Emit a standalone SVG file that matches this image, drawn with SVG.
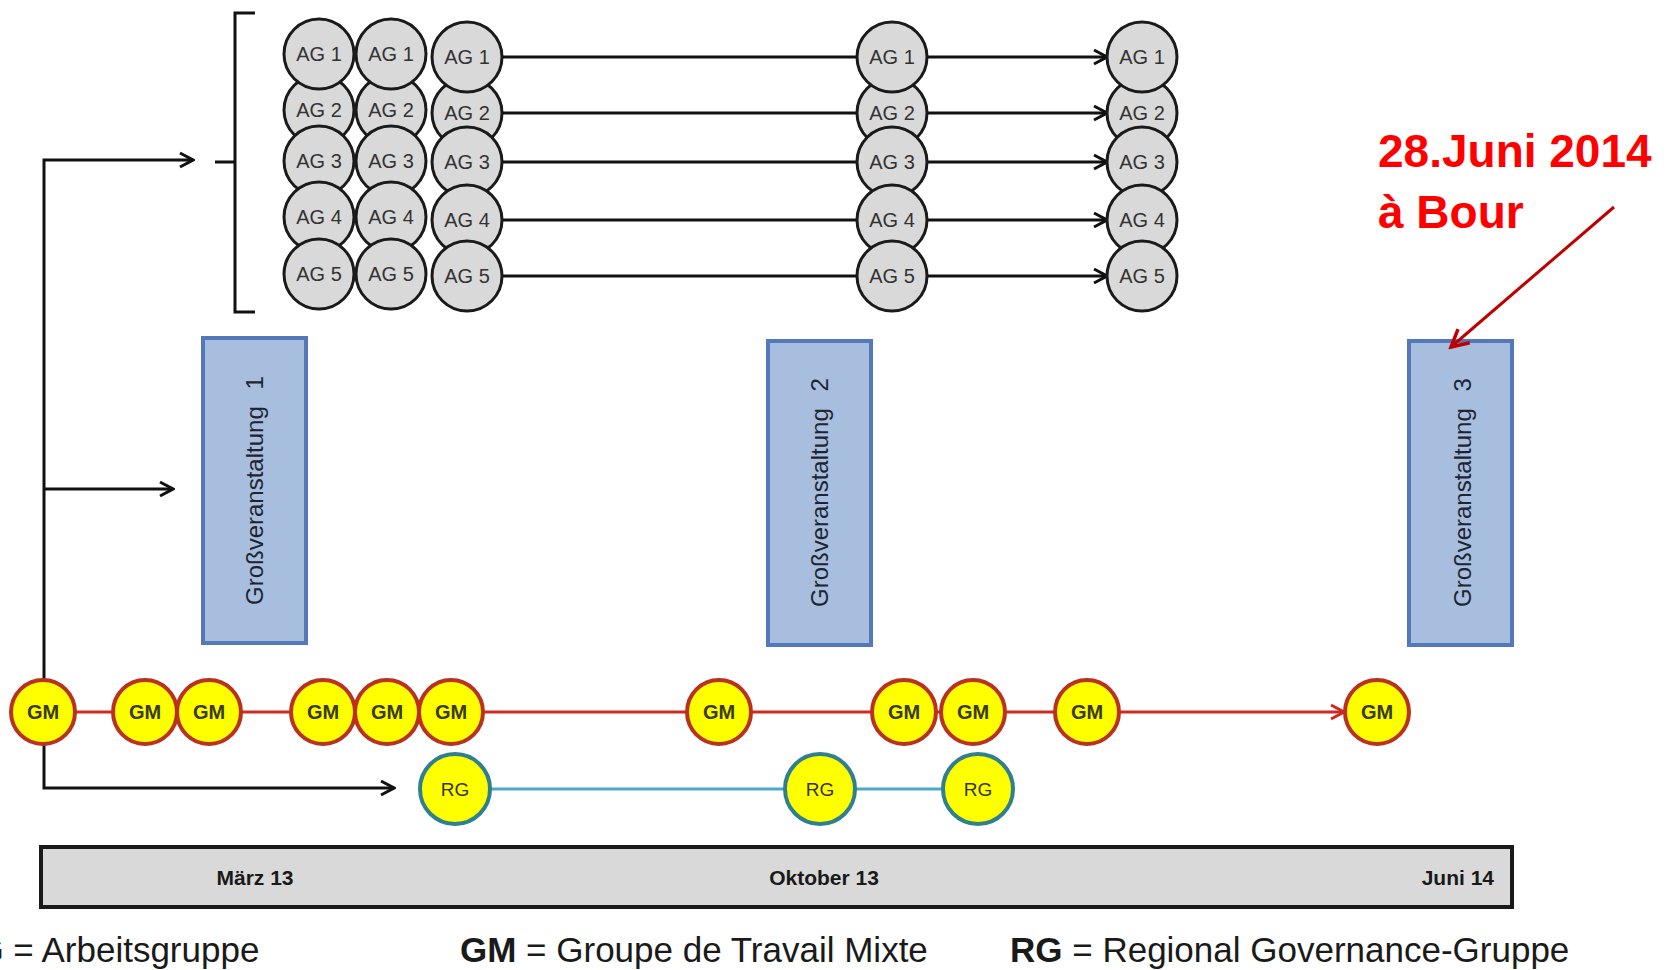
<svg xmlns="http://www.w3.org/2000/svg" width="1671" height="970" viewBox="0 0 1671 970">
<defs>
<style>
text { font-family: "Liberation Sans", Arial, sans-serif; }
.ag circle { fill:#d9d9d9; stroke:#1a1a1a; stroke-width:3; }
.ag text { font-size:20px; fill:#333; text-anchor:middle; }
.gm circle { fill:#ffff00; stroke:#b8321f; stroke-width:4; }
.gm text { font-size:20px; font-weight:bold; fill:#3a3a18; text-anchor:middle; }
.rg circle { fill:#ffff00; stroke:#2e7f90; stroke-width:4; }
.rg text { font-size:19px; fill:#333318; text-anchor:middle; }
.box rect { fill:#a7bedf; stroke:#5379bb; stroke-width:4; }
.box text { font-size:24px; fill:#1e2530; }
.blk { stroke:#111; stroke-width:3; fill:none; }
.red { stroke:#cc2a22; stroke-width:3; fill:none; }
.blue { stroke:#4aa8cc; stroke-width:3; fill:none; }
.ann { stroke:#c00000; stroke-width:3; fill:none; }
.tl rect { fill:#d9d9d9; stroke:#1a1a1a; stroke-width:4; }
.tl text { font-size:21px; font-weight:bold; fill:#1a1a1a; }
.leg { font-size:35px; fill:#1a1a1a; }
.big { font-size:46px; font-weight:bold; fill:#ff0000; }
</style>
<marker id="ah" markerUnits="userSpaceOnUse" markerWidth="20" markerHeight="20" viewBox="0 0 20 20" refX="18" refY="10" orient="auto"><path d="M5,3 L18,10 L5,17" fill="none" stroke="#111" stroke-width="3"/></marker>
<marker id="ahr" markerUnits="userSpaceOnUse" markerWidth="20" markerHeight="20" viewBox="0 0 20 20" refX="18" refY="10" orient="auto"><path d="M5,3 L18,10 L5,17" fill="none" stroke="#cc2a22" stroke-width="3"/></marker>
<marker id="ahd" markerUnits="userSpaceOnUse" markerWidth="26" markerHeight="26" viewBox="0 0 26 26" refX="23" refY="13" orient="auto"><path d="M6,4 L23,13 L6,22" fill="none" stroke="#c00000" stroke-width="3.5"/></marker>
</defs>

<g id="connectors">
  <path class="blk" d="M255,13 H235 V312 H255 M215,162 H235"/>
  <path class="blk" d="M44,680 V160 H193" marker-end="url(#ah)"/>
  <path class="blk" d="M44,489 H173" marker-end="url(#ah)"/>
  <path class="blk" d="M44,744 V788 H394" marker-end="url(#ah)"/>
  <line class="blk" x1="502" y1="57" x2="857" y2="57"/>
  <line class="blk" x1="502" y1="113" x2="857" y2="113"/>
  <line class="blk" x1="502" y1="162" x2="857" y2="162"/>
  <line class="blk" x1="502" y1="220" x2="857" y2="220"/>
  <line class="blk" x1="502" y1="276" x2="857" y2="276"/>
  <line class="blk" x1="927" y1="57" x2="1107" y2="57" marker-end="url(#ah)"/>
  <line class="blk" x1="927" y1="113" x2="1107" y2="113" marker-end="url(#ah)"/>
  <line class="blk" x1="927" y1="162" x2="1107" y2="162" marker-end="url(#ah)"/>
  <line class="blk" x1="927" y1="220" x2="1107" y2="220" marker-end="url(#ah)"/>
  <line class="blk" x1="927" y1="276" x2="1107" y2="276" marker-end="url(#ah)"/>
  <path class="red" d="M75,712 H1344" marker-end="url(#ahr)"/>
  <path class="blue" d="M455,789 H977"/>
</g>

<g id="ag-col1">
  <g class="ag" id="ag1-2"><circle cx="319" cy="110" r="35"/><text x="319" y="117">AG 2</text></g>
  <g class="ag" id="ag1-1"><circle cx="319" cy="54" r="35"/><text x="319" y="61">AG 1</text></g>
  <g class="ag" id="ag1-3"><circle cx="319" cy="161" r="35"/><text x="319" y="168">AG 3</text></g>
  <g class="ag" id="ag1-4"><circle cx="319" cy="217" r="35"/><text x="319" y="224">AG 4</text></g>
  <g class="ag" id="ag1-5"><circle cx="319" cy="274" r="35"/><text x="319" y="281">AG 5</text></g>
</g>
<g id="ag-col2">
  <g class="ag" id="ag2-2"><circle cx="391" cy="110" r="35"/><text x="391" y="117">AG 2</text></g>
  <g class="ag" id="ag2-1"><circle cx="391" cy="54" r="35"/><text x="391" y="61">AG 1</text></g>
  <g class="ag" id="ag2-3"><circle cx="391" cy="161" r="35"/><text x="391" y="168">AG 3</text></g>
  <g class="ag" id="ag2-4"><circle cx="391" cy="217" r="35"/><text x="391" y="224">AG 4</text></g>
  <g class="ag" id="ag2-5"><circle cx="391" cy="274" r="35"/><text x="391" y="281">AG 5</text></g>
</g>
<g id="ag-col3">
  <g class="ag" id="ag3-2"><circle cx="467" cy="113" r="35"/><text x="467" y="120">AG 2</text></g>
  <g class="ag" id="ag3-1"><circle cx="467" cy="57" r="35"/><text x="467" y="64">AG 1</text></g>
  <g class="ag" id="ag3-3"><circle cx="467" cy="162" r="35"/><text x="467" y="169">AG 3</text></g>
  <g class="ag" id="ag3-4"><circle cx="467" cy="220" r="35"/><text x="467" y="227">AG 4</text></g>
  <g class="ag" id="ag3-5"><circle cx="467" cy="276" r="35"/><text x="467" y="283">AG 5</text></g>
</g>
<g id="ag-col4">
  <g class="ag" id="ag4-2"><circle cx="892" cy="113" r="35"/><text x="892" y="120">AG 2</text></g>
  <g class="ag" id="ag4-1"><circle cx="892" cy="57" r="35"/><text x="892" y="64">AG 1</text></g>
  <g class="ag" id="ag4-3"><circle cx="892" cy="162" r="35"/><text x="892" y="169">AG 3</text></g>
  <g class="ag" id="ag4-4"><circle cx="892" cy="220" r="35"/><text x="892" y="227">AG 4</text></g>
  <g class="ag" id="ag4-5"><circle cx="892" cy="276" r="35"/><text x="892" y="283">AG 5</text></g>
</g>
<g id="ag-col5">
  <g class="ag" id="ag5-2"><circle cx="1142" cy="113" r="35"/><text x="1142" y="120">AG 2</text></g>
  <g class="ag" id="ag5-1"><circle cx="1142" cy="57" r="35"/><text x="1142" y="64">AG 1</text></g>
  <g class="ag" id="ag5-3"><circle cx="1142" cy="162" r="35"/><text x="1142" y="169">AG 3</text></g>
  <g class="ag" id="ag5-4"><circle cx="1142" cy="220" r="35"/><text x="1142" y="227">AG 4</text></g>
  <g class="ag" id="ag5-5"><circle cx="1142" cy="276" r="35"/><text x="1142" y="283">AG 5</text></g>
</g>

<g class="box" id="gv1"><rect x="203" y="338" width="103" height="305"/><text transform="translate(263,605) rotate(-90)">Großveranstaltung<tspan dx="10"> 1</tspan></text></g>
<g class="box" id="gv2"><rect x="768" y="341" width="103" height="304"/><text transform="translate(828,607) rotate(-90)">Großveranstaltung<tspan dx="10"> 2</tspan></text></g>
<g class="box" id="gv3"><rect x="1409" y="341" width="103" height="304"/><text transform="translate(1471,607) rotate(-90)">Großveranstaltung<tspan dx="10"> 3</tspan></text></g>

<g id="gm-row">
  <g class="gm" id="gm1"><circle cx="43" cy="712" r="32"/><text x="43" y="719">GM</text></g>
  <g class="gm" id="gm2"><circle cx="145" cy="712" r="32"/><text x="145" y="719">GM</text></g>
  <g class="gm" id="gm3"><circle cx="209" cy="712" r="32"/><text x="209" y="719">GM</text></g>
  <g class="gm" id="gm4"><circle cx="323" cy="712" r="32"/><text x="323" y="719">GM</text></g>
  <g class="gm" id="gm5"><circle cx="387" cy="712" r="32"/><text x="387" y="719">GM</text></g>
  <g class="gm" id="gm6"><circle cx="451" cy="712" r="32"/><text x="451" y="719">GM</text></g>
  <g class="gm" id="gm7"><circle cx="719" cy="712" r="32"/><text x="719" y="719">GM</text></g>
  <g class="gm" id="gm8"><circle cx="904" cy="712" r="32"/><text x="904" y="719">GM</text></g>
  <g class="gm" id="gm9"><circle cx="973" cy="712" r="32"/><text x="973" y="719">GM</text></g>
  <g class="gm" id="gm10"><circle cx="1087" cy="712" r="32"/><text x="1087" y="719">GM</text></g>
  <g class="gm" id="gm11"><circle cx="1377" cy="712" r="32"/><text x="1377" y="719">GM</text></g>
</g>

<g id="rg-row">
  <g class="rg" id="rg1"><circle cx="455" cy="789" r="35"/><text x="455" y="796">RG</text></g>
  <g class="rg" id="rg2"><circle cx="820" cy="789" r="35"/><text x="820" y="796">RG</text></g>
  <g class="rg" id="rg3"><circle cx="978" cy="789" r="35"/><text x="978" y="796">RG</text></g>
</g>

<g class="tl" id="timeline">
  <rect x="41" y="847" width="1471" height="60"/>
  <text x="255" y="885" text-anchor="middle">März 13</text>
  <text x="824" y="885" text-anchor="middle">Oktober 13</text>
  <text x="1494" y="885" text-anchor="end">Juni 14</text>
</g>

<g id="annotation">
  <text class="big" x="1378" y="167">28.Juni 2014</text>
  <text class="big" x="1378" y="228">à Bour</text>
</g>
<g id="annotation-connector">
  <path class="ann" d="M1614,207 L1451,347" marker-end="url(#ahd)"/>
</g>

<g id="legend">
  <text class="leg" x="-49" y="962"><tspan font-weight="bold">AG</tspan> = Arbeitsgruppe</text>
  <text class="leg" x="460" y="962"><tspan font-weight="bold">GM</tspan> = Groupe de Travail Mixte</text>
  <text class="leg" x="1010" y="962"><tspan font-weight="bold">RG</tspan> = Regional Governance-Gruppe</text>
</g>
</svg>
